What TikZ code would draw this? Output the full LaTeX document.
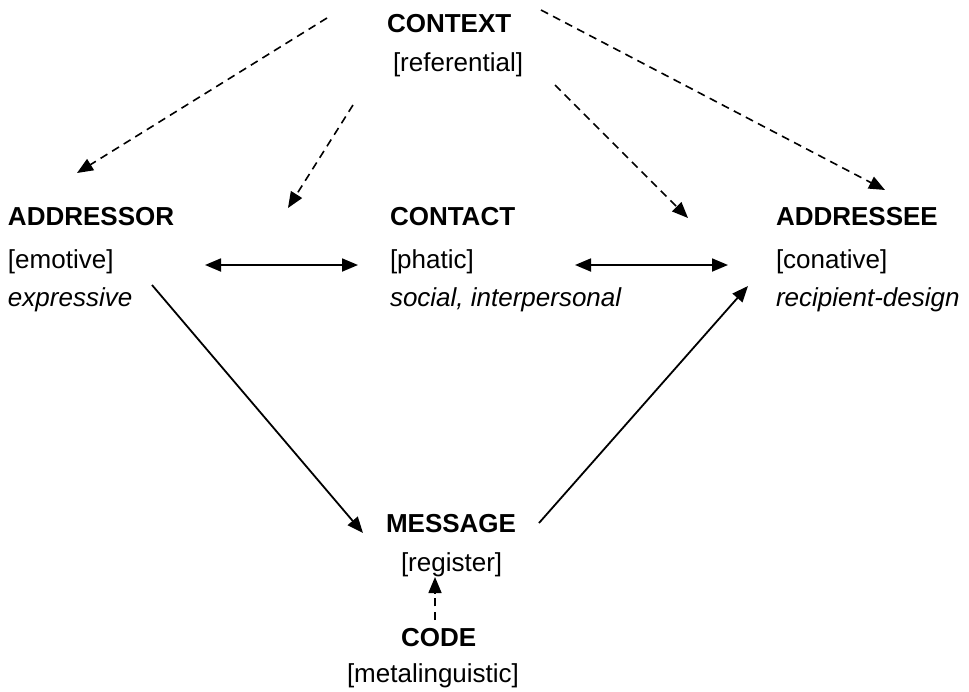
\documentclass[tikz,border=0pt]{standalone}
\usepackage{fontspec}
\setmainfont{Liberation Sans}
\usetikzlibrary{arrows.meta}
\begin{document}
\begin{tikzpicture}[x=0.5pt,y=-0.5pt,
  lbl/.style={anchor=base west,inner sep=0pt,outer sep=0pt,font=\fontsize{13}{15.6}\selectfont},
  head/.style={lbl,font=\fontsize{13}{15.6}\selectfont\bfseries},
  note/.style={lbl,font=\fontsize{13}{15.6}\selectfont\itshape},
  tip/.style={-{Triangle[length=8pt,width=6.5pt]}},
  influence/.style={tip,dashed,dash pattern=on 4pt off 2.8pt,line width=0.8pt},
  flow/.style={tip,line width=0.9pt},
  link/.style={{Triangle[length=8pt,width=6.5pt]}-{Triangle[length=8pt,width=6.5pt]},line width=0.9pt}]
\useasboundingbox (0,0) rectangle (969,691);

% context
\node[head] (context) at (387,32) {CONTEXT};
\node[lbl] (referential) at (393,71) {[referential]};

% addressor
\node[head] (addressor) at (8,225) {ADDRESSOR};
\node[lbl] (emotive) at (8,268) {[emotive]};
\node[note] (expressive) at (8,306) {expressive};

% contact
\node[head] (contact) at (390,225) {CONTACT};
\node[lbl] (phatic) at (390,268) {[phatic]};
\node[note] (social) at (390,306) {social, interpersonal};

% addressee
\node[head] (addressee) at (776,225) {ADDRESSEE};
\node[lbl] (conative) at (776,268) {[conative]};
\node[note] (recipient) at (776,306) {recipient-design};

% message and code
\node[head] (message) at (386,532) {MESSAGE};
\node[lbl] (register) at (401,571) {[register]};
\node[head] (code) at (401,646) {CODE};
\node[lbl] (metaling) at (347,682) {[metalinguistic]};

% connector end points
\coordinate (c1s) at (327,18);  \coordinate (c1e) at (77,173);
\coordinate (c2s) at (353,105); \coordinate (c2e) at (288,208);
\coordinate (c3s) at (555,85);  \coordinate (c3e) at (688,218);
\coordinate (c4s) at (541,10);  \coordinate (c4e) at (885,190);
\coordinate (l1a) at (205,265); \coordinate (l1b) at (358,265);
\coordinate (l2a) at (575,265); \coordinate (l2b) at (728,265);
\coordinate (f1s) at (152,285); \coordinate (f1e) at (363,533);
\coordinate (f2s) at (539,523); \coordinate (f2e) at (748,286);
\coordinate (k1s) at (435,620); \coordinate (k1e) at (435,577);

% referential influence
\draw[influence] (c1s) -- (c1e);
\draw[influence] (c2s) -- (c2e);
\draw[influence] (c3s) -- (c3e);
\draw[influence] (c4s) -- (c4e);

% contact channels
\draw[link] (l1a) -- (l1b);
\draw[link] (l2a) -- (l2b);

% message flow
\draw[flow] (f1s) -- (f1e);
\draw[flow] (f2s) -- (f2e);

% code
\draw[influence] (k1s) -- (k1e);
\end{tikzpicture}
\end{document}
